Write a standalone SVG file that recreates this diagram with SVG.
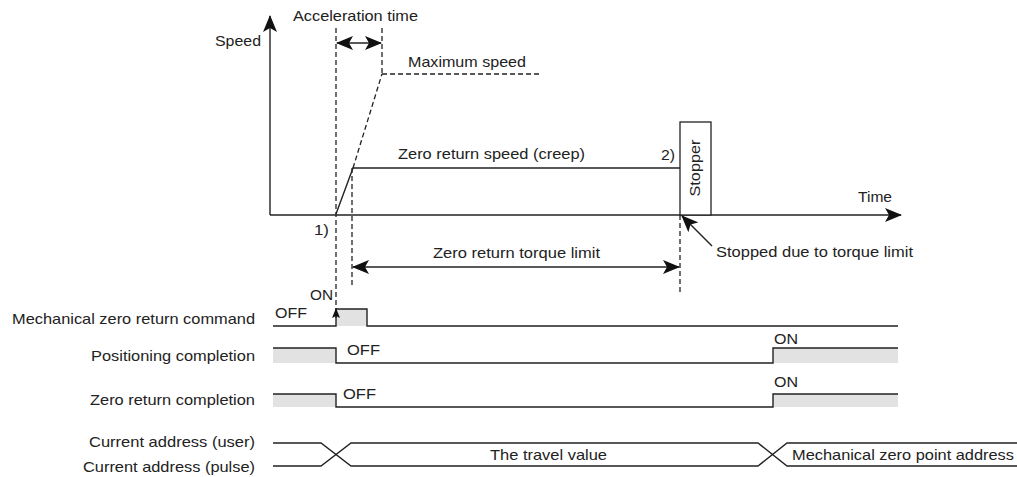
<svg xmlns="http://www.w3.org/2000/svg" width="1017" height="477" viewBox="0 0 1017 477">
<style>
text{font-family:"Liberation Sans",Arial,sans-serif;font-size:14.5px;fill:#222;}
.ln{stroke:#222;stroke-width:1.4;fill:none;}
.ds{stroke:#222;stroke-width:1.3;fill:none;stroke-dasharray:5,3;}
.sh{fill:#e2e2e2;stroke:none;}
</style>
<defs>
<marker id="ah" markerUnits="userSpaceOnUse" markerWidth="18" markerHeight="14" refX="16" refY="7" orient="auto-start-reverse" viewBox="0 0 18 14">
<path d="M0,0 L17,7 L0,14 L4,7 z" fill="#111"/>
</marker>
<marker id="ahs" markerUnits="userSpaceOnUse" markerWidth="10" markerHeight="8" refX="9" refY="4" orient="auto" viewBox="0 0 10 8">
<path d="M0,0 L10,4 L0,8 L2,4 z" fill="#111"/>
</marker>
</defs>
<rect width="1017" height="477" fill="#fff"/>

<g id="axes">
<line class="ln" x1="270" y1="215" x2="270" y2="16" marker-end="url(#ah)"/>
<line class="ln" x1="270" y1="215" x2="901" y2="215" marker-end="url(#ah)"/>
<text x="215" y="46" textLength="46" lengthAdjust="spacingAndGlyphs">Speed</text>
<text x="858" y="202" textLength="34" lengthAdjust="spacingAndGlyphs">Time</text>
</g>

<g id="speed-profile">
<polyline class="ln" points="336,214 353,168 680,168"/>
<line class="ds" x1="353" y1="168" x2="382" y2="74"/>
<line class="ds" x1="382" y1="74" x2="540" y2="74"/>
<text x="408" y="67" textLength="118" lengthAdjust="spacingAndGlyphs">Maximum speed</text>
<text x="398" y="159" textLength="187" lengthAdjust="spacingAndGlyphs">Zero return speed (creep)</text>
<text x="661" y="160" textLength="14" lengthAdjust="spacingAndGlyphs">2)</text>
<text x="314" y="235" textLength="15" lengthAdjust="spacingAndGlyphs">1)</text>
</g>

<g id="stopper">
<rect x="680" y="122" width="31" height="93" fill="#fff" stroke="#222" stroke-width="1.3"/>
<text transform="translate(700,168) rotate(-90)" text-anchor="middle" textLength="57" lengthAdjust="spacingAndGlyphs">Stopper</text>
</g>

<g id="acceleration">
<line class="ds" x1="336" y1="28" x2="336" y2="310"/>
<line class="ds" x1="382" y1="28" x2="382" y2="74"/>
<line class="ln" x1="337" y1="43" x2="381" y2="43" marker-start="url(#ah)" marker-end="url(#ah)"/>
<text x="293" y="21" textLength="125" lengthAdjust="spacingAndGlyphs">Acceleration time</text>
</g>

<g id="torque-limit">
<line class="ds" x1="352" y1="168" x2="352" y2="288"/>
<line class="ds" x1="680" y1="215" x2="680" y2="294"/>
<line class="ln" x1="353" y1="267" x2="679" y2="267" marker-start="url(#ah)" marker-end="url(#ah)"/>
<text x="433" y="258" textLength="167" lengthAdjust="spacingAndGlyphs">Zero return torque limit</text>
</g>

<g id="stopped-note">
<line class="ln" x1="712" y1="246" x2="682" y2="216" marker-end="url(#ah)"/>
<text x="716" y="257" textLength="197" lengthAdjust="spacingAndGlyphs">Stopped due to torque limit</text>
</g>

<g id="sig-command">
<rect class="sh" x="336" y="309" width="31" height="17"/>
<path class="ln" d="M273,326 H336 V309 H367 V326 H898"/>
<line class="ln" x1="336" y1="318" x2="336" y2="309" marker-end="url(#ahs)"/>
<text x="255" y="324" text-anchor="end" textLength="243" lengthAdjust="spacingAndGlyphs">Mechanical zero return command</text>
<text x="275" y="318" textLength="32" lengthAdjust="spacingAndGlyphs">OFF</text>
<text x="310" y="300" textLength="23" lengthAdjust="spacingAndGlyphs">ON</text>
</g>

<g id="sig-positioning">
<rect class="sh" x="273" y="348" width="63" height="15"/>
<rect class="sh" x="773" y="348" width="125" height="15"/>
<path class="ln" d="M273,348 H336 V363 H773 V348 H898"/>
<text x="255" y="361" text-anchor="end" textLength="164" lengthAdjust="spacingAndGlyphs">Positioning completion</text>
<text x="347" y="355" textLength="33" lengthAdjust="spacingAndGlyphs">OFF</text>
<text x="774" y="344" textLength="24" lengthAdjust="spacingAndGlyphs">ON</text>
</g>

<g id="sig-zero-return">
<rect class="sh" x="273" y="394" width="63" height="13"/>
<rect class="sh" x="773" y="394" width="125" height="13"/>
<path class="ln" d="M273,394 H336 V407 H773 V394 H898"/>
<text x="255" y="405" text-anchor="end" textLength="165" lengthAdjust="spacingAndGlyphs">Zero return completion</text>
<text x="343" y="399" textLength="33" lengthAdjust="spacingAndGlyphs">OFF</text>
<text x="774" y="387" textLength="24" lengthAdjust="spacingAndGlyphs">ON</text>
</g>

<g id="sig-address">
<path class="ln" d="M273,443 H321 L351,466 H758 L787,443 H1017"/>
<path class="ln" d="M273,466 H321 L351,443 H758 L787,466 H1017"/>
<text x="255" y="447" text-anchor="end" textLength="166" lengthAdjust="spacingAndGlyphs">Current address (user)</text>
<text x="255" y="472" text-anchor="end" textLength="172" lengthAdjust="spacingAndGlyphs">Current address (pulse)</text>
<text x="490" y="460" textLength="117" lengthAdjust="spacingAndGlyphs">The travel value</text>
<text x="792" y="460" textLength="222" lengthAdjust="spacingAndGlyphs">Mechanical zero point address</text>
</g>
</svg>
